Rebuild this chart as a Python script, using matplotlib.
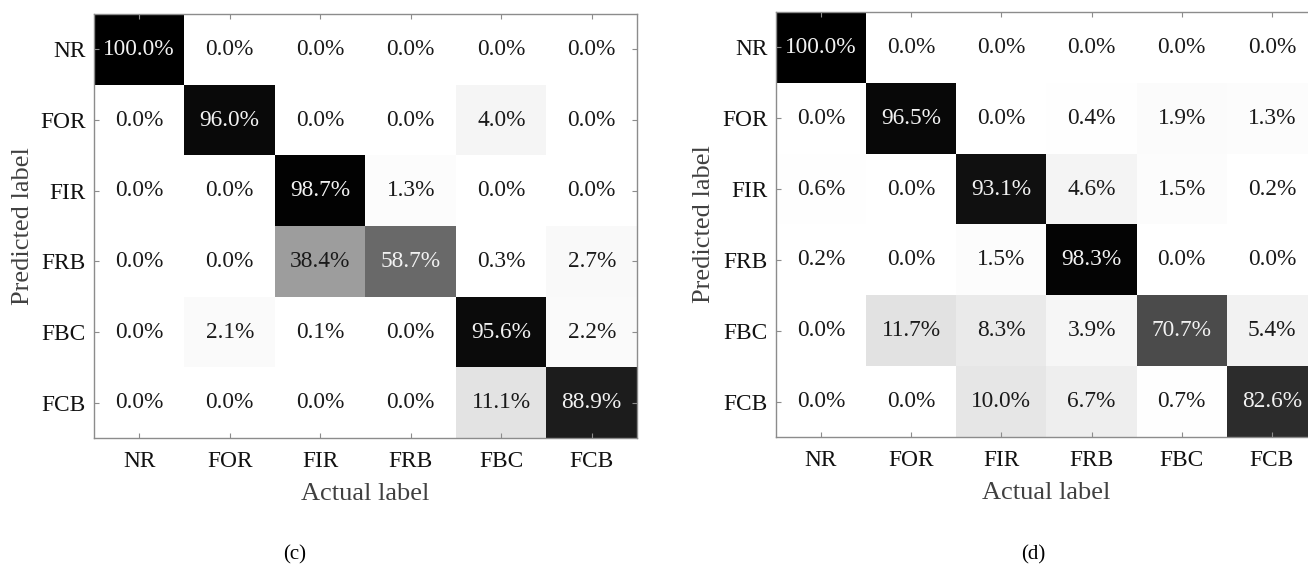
"""Confusion matrices for the six fault classes, panels (c) and (d)."""

import matplotlib
matplotlib.use("Agg")
import matplotlib.pyplot as plt
import numpy as np

LABELS = ["NR", "FOR", "FIR", "FRB", "FBC", "FCB"]

# rows = predicted label, columns = actual label (percent)
CM_C = [
    [100.0, 0.0, 0.0, 0.0, 0.0, 0.0],
    [0.0, 96.0, 0.0, 0.0, 4.0, 0.0],
    [0.0, 0.0, 98.7, 1.3, 0.0, 0.0],
    [0.0, 0.0, 38.4, 58.7, 0.3, 2.7],
    [0.0, 2.1, 0.1, 0.0, 95.6, 2.2],
    [0.0, 0.0, 0.0, 0.0, 11.1, 88.9],
]
CM_D = [
    [100.0, 0.0, 0.0, 0.0, 0.0, 0.0],
    [0.0, 96.5, 0.0, 0.4, 1.9, 1.3],
    [0.6, 0.0, 93.1, 4.6, 1.5, 0.2],
    [0.2, 0.0, 1.5, 98.3, 0.0, 0.0],
    [0.0, 11.7, 8.3, 3.9, 70.7, 5.4],
    [0.0, 0.0, 10.0, 6.7, 0.7, 82.6],
]

plt.rcParams["font.family"] = ["Liberation Serif", "DejaVu Serif"]

W, H = 1308, 564
SPINE = "#8c8c8c"
LABEL_COLOR = "#404040"


def draw_matrix(ax, cm, ylabel_x):
    cm = np.array(cm)
    n = len(LABELS)
    ax.imshow(cm, cmap="gray_r", vmin=0, vmax=100, aspect="auto",
              interpolation="nearest")
    for i in range(n):
        for j in range(n):
            v = cm[i, j]
            color = "#f2f2f2" if v > 50 else "#1a1a1a"
            ax.text(j, i, f"{v:.1f}%", ha="center", va="center",
                    fontsize=16.8, color=color)

    ax.set_xticks(range(n))
    ax.set_yticks(range(n))
    ax.set_xticklabels(LABELS)
    ax.set_yticklabels(LABELS)
    ax.tick_params(direction="in", length=3.5, width=0.8, color=SPINE,
                   labelsize=16.8, labelcolor="#111111",
                   top=True, right=True)
    ax.tick_params(axis="x", pad=9.5)
    ax.tick_params(axis="y", pad=6)
    for s in ax.spines.values():
        s.set_color(SPINE)
        s.set_linewidth(1.0)

    ax.set_xlabel("Actual label", fontsize=19, color=LABEL_COLOR)
    ax.set_ylabel("Predicted label", fontsize=19, color=LABEL_COLOR)
    ax.xaxis.set_label_coords(0.5, -0.105)
    ax.yaxis.set_label_coords(ylabel_x, 0.5)


fig = plt.figure(figsize=(W / 100, H / 100), dpi=100)
fig.patch.set_facecolor("white")

ax_c = fig.add_axes([94 / W, 1 - 438 / H, 543 / W, 424 / H])
ax_d = fig.add_axes([776 / W, 1 - 437 / H, 541 / W, 425 / H])

draw_matrix(ax_c, CM_C, -0.11)
draw_matrix(ax_d, CM_D, -0.113)

fig.text(295 / W, 1 - 555 / H, "(c)", ha="center", va="center", fontsize=15)
fig.text(1033 / W, 1 - 555 / H, "(d)", ha="center", va="center", fontsize=15)

fig.savefig("out.png", dpi=100, facecolor="white")
